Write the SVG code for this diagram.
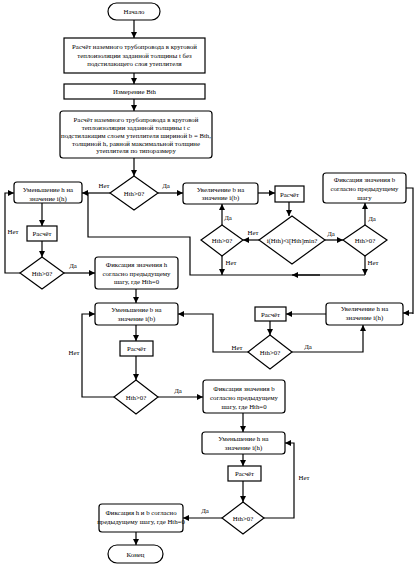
<svg xmlns="http://www.w3.org/2000/svg" width="419" height="566" viewBox="0 0 419 566">
<defs>
<marker id="ah" markerUnits="userSpaceOnUse" markerWidth="7" markerHeight="6" refX="6" refY="3" orient="auto">
<path d="M0,0 L6,3 L0,6 z" fill="#000"/>
</marker>
<style>
.b{fill:#fff;stroke:#000;stroke-width:1.2}
.t{font-family:"Liberation Serif","Times New Roman",serif;font-size:6.8px;fill:#000;text-anchor:middle}
.l{font-family:"Liberation Serif","Times New Roman",serif;font-size:6.8px;fill:#000;text-anchor:middle}
.c{fill:none;stroke:#000;stroke-width:1.2}
.a{fill:none;stroke:#000;stroke-width:1.2;marker-end:url(#ah)}
</style>
</defs>
<rect width="419" height="566" fill="#fff"/>
<g id="connectors">
<path class="a" d="M134,20 V38"/>
<path class="a" d="M134,73 V84"/>
<path class="a" d="M134,99 V111"/>
<path class="a" d="M134,158 V176"/>
<path class="a" d="M110,193 H82"/>
<path class="a" d="M158,193 H183"/>
<path class="a" d="M42,203 V226"/>
<path class="a" d="M42,241 V257"/>
<path class="a" d="M20,273 H5 V193 H14"/>
<path class="a" d="M64,273 H95"/>
<path class="a" d="M258,193 H275"/>
<path class="a" d="M289,202 V216"/>
<path class="a" d="M259,240 H243"/>
<path class="a" d="M325,240 H343"/>
<path class="a" d="M365,225 V203"/>
<path class="a" d="M222,225 V204"/>
<path class="a" d="M365,256 V275"/>
<path class="a" d="M222,256 V275"/>
<path class="c" d="M365,275 H190 V237 H88 V193"/>
<path class="a" d="M320,275 H292"/>
<path class="c" d="M406,188 H413 V314"/>
<path class="a" d="M413,313 H403"/>
<path class="a" d="M326,314 H286"/>
<path class="a" d="M270,321 V335"/>
<path class="a" d="M248,352 H213 V314 H178"/>
<path class="a" d="M292,352 H363 V325"/>
<path class="a" d="M136,289 V303"/>
<path class="a" d="M136,325 V341"/>
<path class="a" d="M136,356 V380"/>
<path class="a" d="M114,397 H82 V314 H95"/>
<path class="a" d="M158,397 H203"/>
<path class="a" d="M243,413 V432"/>
<path class="a" d="M243,454 V466"/>
<path class="a" d="M243,481 V502"/>
<path class="a" d="M264,518 H294 V443 H285"/>
<path class="a" d="M222,518 H183"/>
<path class="a" d="M136,532 V545"/>
</g>
<g id="labels">
<text class="l" x="104" y="188">Нет</text>
<text class="l" x="166" y="188">Да</text>
<text class="l" x="13" y="234">Нет</text>
<text class="l" x="73" y="268">Да</text>
<text class="l" x="228" y="220">Да</text>
<text class="l" x="231" y="265">Нет</text>
<text class="l" x="253" y="235">Нет</text>
<text class="l" x="331" y="236">Да</text>
<text class="l" x="372" y="221">Да</text>
<text class="l" x="373" y="265">Нет</text>
<text class="l" x="74" y="355">Нет</text>
<text class="l" x="178" y="393">Да</text>
<text class="l" x="237" y="350">Нет</text>
<text class="l" x="308" y="349">Да</text>
<text class="l" x="304" y="480">Нет</text>
<text class="l" x="205" y="513">Да</text>
</g>
<g id="start">
<rect class="b" x="108" y="3" width="52" height="17" rx="8.5"/>
<text class="t" x="134" y="14">Начало</text>
</g>
<g id="calc1">
<rect class="b" x="64" y="38" width="141" height="35"/>
<text class="t" x="134.5" y="49">Расчёт наземного трубопровода в круговой</text>
<text class="t" x="134.5" y="57.5">теплоизоляции заданной толщины t без</text>
<text class="t" x="134.5" y="66">подстилающего слоя утеплителя</text>
</g>
<g id="measure">
<rect class="b" x="64" y="84" width="141" height="15"/>
<text class="t" x="134.5" y="93.5">Измерение Bth</text>
</g>
<g id="calc2">
<rect class="b" x="60" y="111" width="152" height="47" rx="3"/>
<text class="t" x="136" y="122">Расчёт наземного трубопровода в круговой</text>
<text class="t" x="136" y="130">теплоизоляции заданной толщины t с</text>
<text class="t" x="136" y="137.5">подстилающим слоем утеплителя шириной b = Bth,</text>
<text class="t" x="136" y="145.5">толщиной h, равной максимальной толщине</text>
<text class="t" x="136" y="153">утеплителя по типоразмеру</text>
</g>
<g id="d1">
<polygon class="b" points="134,176 158,193 134,210 110,193"/>
<text class="t" x="134" y="195.5">Hth&gt;0?</text>
</g>
<g id="decH1">
<rect class="b" x="14" y="182" width="68" height="21" rx="3"/>
<text class="t" x="48" y="192">Уменьшение h на</text>
<text class="t" x="48" y="200.5">значение i(h)</text>
</g>
<g id="calcL1">
<rect class="b" x="27" y="226" width="30" height="15"/>
<text class="t" x="42" y="236">Расчёт</text>
</g>
<g id="dL1">
<polygon class="b" points="42,257 64,273 42,289 20,273"/>
<text class="t" x="42" y="275.5">Hth&gt;0?</text>
</g>
<g id="fixH">
<rect class="b" x="95" y="257" width="83" height="32" rx="3"/>
<text class="t" x="136.5" y="267">Фиксация значения h</text>
<text class="t" x="136.5" y="275.5">согласно предыдущему</text>
<text class="t" x="136.5" y="284">шагу, где Hth=0</text>
</g>
<g id="incB">
<rect class="b" x="183" y="183" width="75" height="21" rx="3"/>
<text class="t" x="220.5" y="191.5">Увеличение b на</text>
<text class="t" x="220.5" y="200">значение i(b)</text>
</g>
<g id="calcM1">
<rect class="b" x="275" y="186" width="29" height="16"/>
<text class="t" x="289.5" y="196.5">Расчёт</text>
</g>
<g id="dMin">
<polygon class="b" points="292,216 325,240 292,264 259,240"/>
<text class="t" x="292" y="242.5">i(Hth)&lt;i[Hth]min?</text>
</g>
<g id="dM">
<polygon class="b" points="222,225 243,240 222,256 201,240"/>
<text class="t" x="222" y="242.5">Hth&gt;0?</text>
</g>
<g id="dR">
<polygon class="b" points="365,225 387,240 365,256 343,240"/>
<text class="t" x="365" y="242.5">Hth&gt;0?</text>
</g>
<g id="fixB1">
<rect class="b" x="323" y="173" width="83" height="30" rx="3"/>
<text class="t" x="364.5" y="182">Фиксация значения b</text>
<text class="t" x="364.5" y="191">согласно предыдущему</text>
<text class="t" x="364.5" y="200">шагу</text>
</g>
<g id="incH">
<rect class="b" x="326" y="303" width="77" height="22" rx="3"/>
<text class="t" x="364.5" y="311">Увеличение h на</text>
<text class="t" x="364.5" y="320">значение i(h)</text>
</g>
<g id="calcM2">
<rect class="b" x="255" y="307" width="31" height="14"/>
<text class="t" x="270.5" y="316.5">Расчёт</text>
</g>
<g id="dM2">
<polygon class="b" points="270,335 292,352 270,369 248,352"/>
<text class="t" x="270" y="354.5">Hth&gt;0?</text>
</g>
<g id="decB">
<rect class="b" x="95" y="303" width="83" height="22" rx="3"/>
<text class="t" x="136.5" y="312">Уменьшение b на</text>
<text class="t" x="136.5" y="321">значение i(b)</text>
</g>
<g id="calcL2">
<rect class="b" x="120" y="341" width="33" height="15"/>
<text class="t" x="136.5" y="351">Расчёт</text>
</g>
<g id="dL2">
<polygon class="b" points="136,380 158,397 136,414 114,397"/>
<text class="t" x="136" y="399.5">Hth&gt;0?</text>
</g>
<g id="fixB2">
<rect class="b" x="203" y="380" width="82" height="33" rx="3"/>
<text class="t" x="244" y="391">Фиксация значения b</text>
<text class="t" x="244" y="400">согласно предыдущему</text>
<text class="t" x="244" y="409">шагу, где Hth=0</text>
</g>
<g id="decH2">
<rect class="b" x="202" y="432" width="83" height="22" rx="3"/>
<text class="t" x="243.5" y="441">Уменьшение h на</text>
<text class="t" x="243.5" y="450">значение i(h)</text>
</g>
<g id="calcB">
<rect class="b" x="228" y="466" width="33" height="15"/>
<text class="t" x="244.5" y="476">Расчёт</text>
</g>
<g id="dB">
<polygon class="b" points="243,502 264,518 243,534 222,518"/>
<text class="t" x="243" y="520.5">Hth&gt;0?</text>
</g>
<g id="fixHB">
<rect class="b" x="99" y="504" width="84" height="28" rx="3"/>
<text class="t" x="141" y="514.5">Фиксация h и b согласно</text>
<text class="t" x="141" y="523.5">предыдущему шагу, где Hth=0</text>
</g>
<g id="end">
<rect class="b" x="108" y="545" width="55" height="18" rx="9"/>
<text class="t" x="135.5" y="556.5">Конец</text>
</g>
</svg>
